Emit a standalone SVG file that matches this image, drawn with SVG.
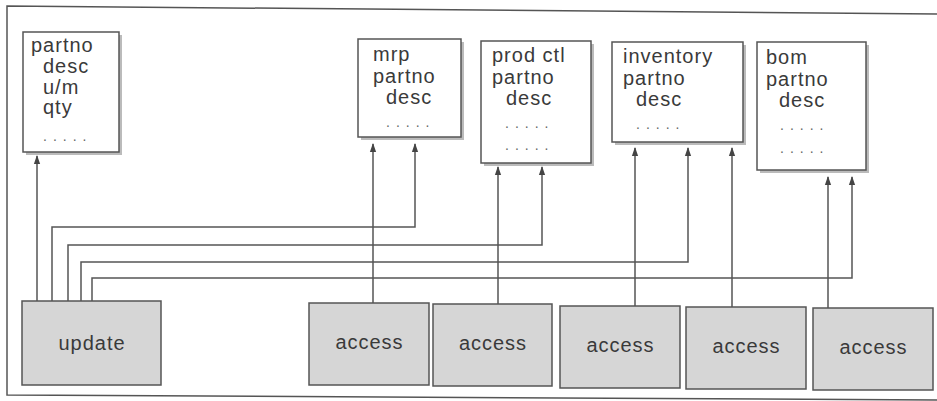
<svg xmlns="http://www.w3.org/2000/svg" width="937" height="401" viewBox="0 0 937 401">
<defs>
<style>
.t{font-family:"Liberation Sans",Arial,sans-serif;font-size:20px;fill:#3a3a3a;letter-spacing:1px}
.d{font-family:"Liberation Sans",Arial,sans-serif;font-size:14px;fill:#666;letter-spacing:6px}
.file{fill:#fff;stroke:#555;stroke-width:1.5}
.sh{fill:#bbb}
.proc{fill:#d6d6d6;stroke:#555;stroke-width:1.5}
.c{fill:none;stroke:#555;stroke-width:1.5}
</style>
<marker id="ah" viewBox="0 0 10 10" refX="9" refY="5" markerWidth="6" markerHeight="6" orient="auto-start-reverse">
<path d="M0,1.5 L10,5 L0,8.5 z" fill="#444"/>
</marker>
</defs>
<rect width="937" height="401" fill="#fff"/>
<g id="frame" fill="none" stroke="#555" stroke-width="1.5">
<path d="M937,14 L7,6 L7,395 L937,400"/>
</g>
<g id="connectors">
<path class="c" d="M37,301 V156" marker-end="url(#ah)"/>
<path class="c" d="M52,301 V227 H415 V144" marker-end="url(#ah)"/>
<path class="c" d="M68,301 V245 H542 V167" marker-end="url(#ah)"/>
<path class="c" d="M81,301 V262 H688 V148" marker-end="url(#ah)"/>
<path class="c" d="M92,301 V278 H852 V177" marker-end="url(#ah)"/>
<path class="c" d="M373,303 V144" marker-end="url(#ah)"/>
<path class="c" d="M498,304 V167" marker-end="url(#ah)"/>
<path class="c" d="M635,306 V148" marker-end="url(#ah)"/>
<path class="c" d="M732,307 V148" marker-end="url(#ah)"/>
<path class="c" d="M828,308 V177" marker-end="url(#ah)"/>
</g>
<g id="partfile">
<rect class="sh" x="26" y="35" width="96" height="120"/>
<rect class="file" x="23" y="32" width="96" height="120"/>
<text class="t" x="31" y="52">partno</text>
<text class="t" x="43" y="73">desc</text>
<text class="t" x="43" y="94">u/m</text>
<text class="t" x="43" y="114">qty</text>
<text class="d" x="43" y="141">.....</text>
</g>
<g id="mrp">
<rect class="sh" x="361" y="42" width="103" height="98"/>
<rect class="file" x="358" y="39" width="103" height="98"/>
<text class="t" x="373" y="61">mrp</text>
<text class="t" x="373" y="83">partno</text>
<text class="t" x="386" y="104">desc</text>
<text class="d" x="386" y="127">.....</text>
</g>
<g id="prodctl">
<rect class="sh" x="484" y="44" width="110" height="122"/>
<rect class="file" x="481" y="41" width="110" height="122"/>
<text class="t" x="492" y="62">prod ctl</text>
<text class="t" x="492" y="84">partno</text>
<text class="t" x="506" y="105">desc</text>
<text class="d" x="505" y="128">.....</text>
<text class="d" x="505" y="150">.....</text>
</g>
<g id="inventory">
<rect class="sh" x="615" y="45" width="131" height="100"/>
<rect class="file" x="612" y="42" width="131" height="100"/>
<text class="t" x="623" y="63">inventory</text>
<text class="t" x="623" y="85">partno</text>
<text class="t" x="636" y="106">desc</text>
<text class="d" x="636" y="129">.....</text>
</g>
<g id="bom">
<rect class="sh" x="760" y="45" width="109" height="128"/>
<rect class="file" x="757" y="42" width="109" height="128"/>
<text class="t" x="766" y="64">bom</text>
<text class="t" x="766" y="86">partno</text>
<text class="t" x="779" y="107">desc</text>
<text class="d" x="780" y="130">.....</text>
<text class="d" x="780" y="153">.....</text>
</g>
<g id="update">
<rect class="proc" x="22" y="301" width="139" height="84"/>
<text class="t" x="92" y="350" text-anchor="middle">update</text>
</g>
<g id="access1">
<rect class="proc" x="309" y="303" width="120" height="82"/>
<text class="t" x="369.5" y="349" text-anchor="middle">access</text>
</g>
<g id="access2">
<rect class="proc" x="433" y="304" width="119" height="82"/>
<text class="t" x="493" y="350" text-anchor="middle">access</text>
</g>
<g id="access3">
<rect class="proc" x="560" y="306" width="120" height="82"/>
<text class="t" x="620.5" y="352" text-anchor="middle">access</text>
</g>
<g id="access4">
<rect class="proc" x="686" y="307" width="120" height="82"/>
<text class="t" x="746.5" y="353" text-anchor="middle">access</text>
</g>
<g id="access5">
<rect class="proc" x="813" y="308" width="120" height="82"/>
<text class="t" x="873.5" y="354" text-anchor="middle">access</text>
</g>
</svg>
